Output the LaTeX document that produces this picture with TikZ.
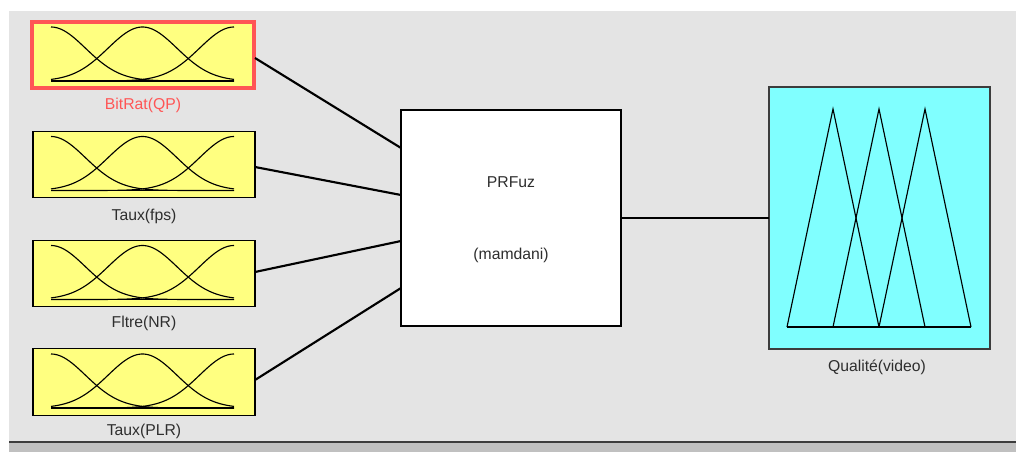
\documentclass[tikz,border=0pt]{standalone}
\usepackage{fontspec}
\setmainfont{Liberation Sans}
\usetikzlibrary{calc}
\definecolor{panel}{HTML}{E4E4E4}
\definecolor{strip}{HTML}{C0C0C0}
\definecolor{rim}{HTML}{3C3C3C}
\definecolor{mfyellow}{HTML}{FFFF80}
\definecolor{mfcyan}{HTML}{80FFFF}
\definecolor{selred}{HTML}{FF5555}
\definecolor{labeltext}{HTML}{2E2E2E}
\begin{document}
\begin{tikzpicture}[x=0.75pt,y=-0.75pt,
  every node/.style={inner sep=0pt,outer sep=0pt,font=\fontsize{11.8}{14}\selectfont},
  inbox/.style={draw=black,line width=0.8pt,fill=mfyellow,minimum width=166.5pt,minimum height=50pt},
  selbox/.style={inbox,draw=selred,line width=3pt},
  fisbox/.style={draw=black,line width=1.5pt,fill=white,minimum width=165pt,minimum height=162pt},
  outbox/.style={draw=rim,line width=0.8pt,fill=mfcyan,minimum width=165.75pt,minimum height=196.5pt},
  lbl/.style={text=labeltext},
  wire/.style={line width=1.6pt,black},
  mf/.style={line width=0.85pt,black}]
\useasboundingbox (0,0) rectangle (1016,452);
% window background
\fill[white] (0,0) rectangle (1016,452);
\fill[panel] (9,11) rectangle (1016,441);
\fill[strip] (9,443) rectangle (1016,452);
\draw[rim,line width=1.5pt] (9,442) -- (1016,442);

% input variables
\node[selbox] (in1) at (143,55) {};
\node[inbox] (in2) at (144,164.5) {};
\node[inbox] (in3) at (144,273.5) {};
\node[inbox] (in4) at (144,382) {};

% gaussian membership functions of each input
\foreach \c in {55,164.5,273.5,382} {
  \draw[mf] (51,\c+26) -- (234,\c+26);
  \foreach \m in {51,142.5,234} {
    \draw[mf] plot[domain=51:234,samples=70,smooth]
      (\x,{\c+26-54*exp(-0.5*((\x-\m)/34.5)^2)});
  }
}

\node[text=selred] (l1) at (143,105) {BitRat(QP)};
\node[lbl] (l2) at (144,216) {Taux(fps)};
\node[lbl] (l3) at (144,323) {Fltre(NR)};
\node[lbl] (l4) at (144,431) {Taux(PLR)};

% inference system
\node[fisbox] (fis) at (511,218) {};
\node[lbl] (fisname) at (511,182) {PRFuz};
\node[lbl] (fistype) at (511,255) {(mamdani)};

% output variable
\node[outbox] (out) at (879.5,218) {};
\draw[mf] (787,327) -- (971,327);
\draw[mf] (787,327) -- (833,109) -- (879,327);
\draw[mf] (833,327) -- (879,109) -- (925,327);
\draw[mf] (879,327) -- (925,109) -- (971,327);
\node[lbl] (lout) at (877,367) {Qualité(video)};

% connections
\draw[wire] ($(in1.east)+(1,3)$) -- ($(fis.west)+(0,-70)$);
\draw[wire] ($(in2.east)+(0,2.5)$) -- ($(fis.west)+(0,-23)$);
\draw[wire] ($(in3.east)+(0,-1.5)$) -- ($(fis.west)+(0,23)$);
\draw[wire] ($(in4.east)+(0,-2)$) -- ($(fis.west)+(0,70)$);
\draw[wire] (fis.east) -- (out.west);
\end{tikzpicture}
\end{document}
